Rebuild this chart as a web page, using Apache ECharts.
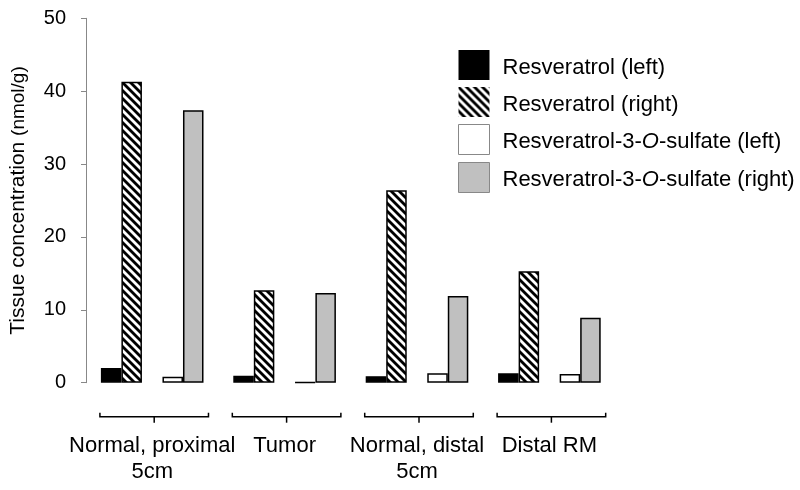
<!DOCTYPE html>
<html>
<head>
<meta charset="utf-8">
<script src="https://cdn.jsdelivr.net/npm/echarts@6/dist/echarts.min.js"></script>
<style>html,body{margin:0;padding:0;background:#fff}#c{width:800px;height:490px}</style>
</head>
<body>
<div id="c"></div>
<script>
var categories = ['Normal, proximal\n5cm', 'Tumor', 'Normal, distal\n5cm', 'Distal RM'];
var seriesNames = ['Resveratrol (left)', 'Resveratrol (right)', 'Resveratrol-3-O-sulfate (left)', 'Resveratrol-3-O-sulfate (right)'];
var resLeft = [2.0, 0.95, 0.9, 1.3];
var resRight = [41.3, 12.7, 26.4, 15.3];
var sulfLeft = [0.8, 0.05, 1.3, 1.2];
var sulfRight = [37.4, 12.3, 11.9, 8.9];
var yTicks = [0, 10, 20, 30, 40, 50];

var FONT = "'Liberation Sans', Arial, Helvetica, sans-serif";

// hatch pattern
var pc = document.createElement('canvas');
pc.width = 8; pc.height = 8;
var g = pc.getContext('2d');
g.fillStyle = '#fff'; g.fillRect(0, 0, 8, 8);
g.strokeStyle = '#000'; g.lineWidth = 2.8;
[-8, 0, 8].forEach(function (k) { g.beginPath(); g.moveTo(k - 1, -1); g.lineTo(k + 9, 9); g.stroke(); });
var hatch = { image: pc, repeat: 'repeat' };

var chart = echarts.init(document.getElementById('c'), null, { renderer: 'canvas' });
var barBase = { type: 'bar', barWidth: '15.5%', barGap: '0%' };
function bar(name, data, fill) {
  return Object.assign({}, barBase, {
    name: name, data: data,
    itemStyle: { color: fill, borderColor: '#000', borderWidth: 1.5 }
  });
}

var option = {
  animation: false,
  textStyle: { fontFamily: FONT },
  grid: { left: 85, right: 184.4, top: 18.3, bottom: 107.3 },
  legend: {
    orient: 'vertical', left: 458, top: 50, padding: 0,
    itemWidth: 31, itemHeight: 30, itemGap: 7, icon: 'rect',
    selectedMode: false,
    textStyle: {
      fontSize: 22, color: '#000', fontFamily: FONT, padding: [5, 0, 0, 8],
      rich: { i: { fontStyle: 'italic', fontSize: 22, fontFamily: FONT, color: '#000' } }
    },
    formatter: function (n) { return n.replace('-O-', '-{i|O}-'); },
    data: [
      { name: seriesNames[0], itemStyle: { borderWidth: 0 } },
      { name: seriesNames[1], itemStyle: { borderWidth: 0 } },
      { name: seriesNames[2], itemStyle: { borderColor: '#888', borderWidth: 1 } },
      { name: seriesNames[3], itemStyle: { borderColor: '#888', borderWidth: 1 } }
    ]
  },
  xAxis: {
    type: 'category', data: categories,
    axisLine: { show: false }, axisTick: { show: false },
    axisLabel: { margin: 50, fontSize: 22, lineHeight: 26, color: '#000', fontFamily: FONT, interval: 0, align: 'center' }
  },
  yAxis: {
    type: 'value', min: yTicks[0], max: yTicks[yTicks.length - 1], interval: 10,
    splitLine: { show: false },
    axisLine: { show: true, lineStyle: { color: '#888', width: 1 } },
    axisTick: { show: true, length: 5, lineStyle: { color: '#888' } },
    axisLabel: { fontSize: 20, color: '#000', margin: 20, fontFamily: FONT },
    name: '{a|Tissue concentration }{b|(nmol/g)}',
    nameLocation: 'middle', nameGap: 57, nameRotate: 90,
    nameTextStyle: {
      rich: {
        a: { fontSize: 21, color: '#000', fontFamily: FONT },
        b: { fontSize: 19, color: '#000', fontFamily: FONT }
      }
    }
  },
  series: [
    bar(seriesNames[0], resLeft, '#000'),
    bar(seriesNames[1], resRight, hatch),
    Object.assign({}, barBase, { name: '_gap', data: categories.map(function () { return '-'; }), itemStyle: { color: 'transparent' } }),
    bar(seriesNames[2], sulfLeft, '#fff'),
    bar(seriesNames[3], sulfRight, '#c0c0c0'),
    {
      type: 'custom', name: '_brackets', silent: true, clip: false,
      data: categories.map(function (c, i) { return [i, 0]; }),
      encode: { x: 0, y: 1 },
      renderItem: function (params, api) {
        var p = api.coord([api.value(0), 0]);
        var band = api.size([1, 0])[0];
        var cx = p[0] + 2, y = p[1] + 34, hw = band * 0.41;
        return {
          type: 'group',
          children: [
            { type: 'polyline', shape: { points: [[cx - hw, y - 4], [cx - hw, y], [cx + hw, y], [cx + hw, y - 4]] }, style: { stroke: '#000', lineWidth: 1.5, fill: null } },
            { type: 'line', shape: { x1: cx, y1: y, x2: cx, y2: y + 6 }, style: { stroke: '#000', lineWidth: 1.5 } }
          ]
        };
      }
    }
  ]
};
chart.setOption(option);
</script>
</body>
</html>
